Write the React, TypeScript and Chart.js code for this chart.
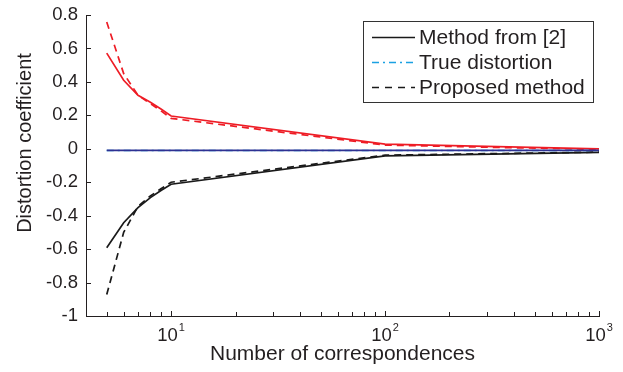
import React, { useEffect, useRef } from "react";
import { Chart, registerables } from "chart.js";

Chart.register(...registerables);

// ---- data ----
const xValues = [5, 6, 7, 8, 9, 10, 100, 1000];
const methodUpper = [0.572, 0.41, 0.32, 0.278, 0.236, 0.196, 0.028, 0.0];
const proposedUpper = [0.758, 0.45, 0.32, 0.27, 0.225, 0.182, 0.022, -0.004];
const methodLower = [-0.592, -0.442, -0.352, -0.292, -0.248, -0.212, -0.042, -0.022];
const proposedLower = [-0.872, -0.5, -0.345, -0.282, -0.238, -0.2, -0.038, -0.02];
const trueDistortion = [-0.01, -0.01, -0.01, -0.01, -0.01, -0.01, -0.01, -0.01];

const yTickValues = [-1, -0.8, -0.6, -0.4, -0.2, 0, 0.2, 0.4, 0.6, 0.8];
const xMajorTicks = [10, 100, 1000];
const xTickExponents = ["1", "2", "3"];
const xMinorTicks = [5, 6, 7, 8, 9, 20, 30, 40, 50, 60, 70, 80, 90, 200, 300, 400, 500, 600, 700, 800, 900];
const legendLabels = ["Method from [2]", "True distortion", "Proposed method"];
const xTitle = "Number of correspondences";
const yTitle = "Distortion coefficient";

const TEXT = "#231f20";
const RED = "#ee1c25";
const BLACK = "#1a1a1a";
const NAVY = "#2e3192";
const CYAN = "#1ba1e2";
const FONT = "'Liberation Sans', Arial, Helvetica, sans-serif";

const pts = (ys: number[]) => xValues.map((x, i) => ({ x, y: ys[i] }));

const overlay = {
  id: "matlabOverlay",
  afterDraw(chart: any) {
    const { ctx, chartArea } = chart;
    const xs = chart.scales.x;
    const ys = chart.scales.y;
    ctx.save();
    ctx.strokeStyle = TEXT;
    ctx.lineWidth = 1;
    ctx.setLineDash([]);
    // y ticks (inward)
    yTickValues.forEach((v) => {
      const py = Math.round(ys.getPixelForValue(v)) + 0.5;
      ctx.beginPath();
      ctx.moveTo(chartArea.left, py);
      ctx.lineTo(chartArea.left + 5, py);
      ctx.stroke();
    });
    // x ticks (inward)
    const bottom = chartArea.bottom;
    xMajorTicks.forEach((v) => {
      const px = Math.round(xs.getPixelForValue(v)) + 0.5;
      ctx.beginPath();
      ctx.moveTo(px, bottom);
      ctx.lineTo(px, bottom - 5);
      ctx.stroke();
    });
    xMinorTicks.forEach((v) => {
      const px = Math.round(xs.getPixelForValue(v)) + 0.5;
      ctx.beginPath();
      ctx.moveTo(px, bottom);
      ctx.lineTo(px, bottom - 4);
      ctx.stroke();
    });
    // x tick labels 10^n
    ctx.fillStyle = TEXT;
    ctx.textBaseline = "alphabetic";
    xMajorTicks.forEach((v, i) => {
      const px = xs.getPixelForValue(v);
      ctx.font = `18.5px ${FONT}`;
      const wBase = ctx.measureText("10").width;
      ctx.font = `11px ${FONT}`;
      const wExp = ctx.measureText(xTickExponents[i]).width;
      const total = wBase + 1 + wExp;
      const x0 = px - total / 2;
      ctx.font = `18.5px ${FONT}`;
      ctx.textAlign = "left";
      ctx.fillText("10", x0, 341);
      ctx.font = `11px ${FONT}`;
      ctx.fillText(xTickExponents[i], x0 + wBase + 1, 331);
    });
    // y title
    ctx.save();
    ctx.translate(25, 143);
    ctx.rotate(-Math.PI / 2);
    ctx.font = `20px ${FONT}`;
    ctx.textAlign = "center";
    ctx.textBaseline = "middle";
    ctx.fillText(yTitle, 0, 0);
    ctx.restore();
    // legend
    const bx = 363.5, by = 21.5, bw = 230, bh = 81;
    ctx.fillStyle = "#ffffff";
    ctx.fillRect(bx, by, bw, bh);
    ctx.strokeStyle = "#333333";
    ctx.strokeRect(bx, by, bw, bh);
    const rows = [37, 62, 87];
    const samples = [
      { color: BLACK, dash: [] as number[], width: 1.3 },
      { color: CYAN, dash: [7, 4, 2, 4], width: 1.3 },
      { color: BLACK, dash: [7, 6], width: 1.3 },
    ];
    rows.forEach((ry, i) => {
      ctx.strokeStyle = samples[i].color;
      ctx.lineWidth = samples[i].width;
      ctx.setLineDash(samples[i].dash);
      ctx.beginPath();
      ctx.moveTo(372, ry + 0.5);
      ctx.lineTo(415, ry + 0.5);
      ctx.stroke();
      ctx.setLineDash([]);
      ctx.fillStyle = TEXT;
      ctx.font = `21px ${FONT}`;
      ctx.textAlign = "left";
      ctx.textBaseline = "middle";
      ctx.fillText(legendLabels[i], 419, ry + 1);
    });
    ctx.restore();
  },
};

export default function App() {
  const ref = useRef<HTMLCanvasElement | null>(null);
  useEffect(() => {
    document.body.style.margin = "0";
    const canvas = ref.current!;
    const chart = new Chart(canvas, {
      type: "line",
      data: {
        datasets: [
          { label: "navy", data: pts(trueDistortion), borderColor: NAVY, borderWidth: 1.8, pointRadius: 0 },
          { label: legendLabels[1], data: pts(trueDistortion), borderColor: CYAN, borderWidth: 1.6, borderDash: [7, 4, 2, 4], pointRadius: 0 },
          { label: "upper method", data: pts(methodUpper), borderColor: RED, borderWidth: 1.7, pointRadius: 0 },
          { label: "upper proposed", data: pts(proposedUpper), borderColor: RED, borderWidth: 1.7, borderDash: [7, 5], pointRadius: 0 },
          { label: legendLabels[0], data: pts(methodLower), borderColor: BLACK, borderWidth: 1.7, pointRadius: 0 },
          { label: legendLabels[2], data: pts(proposedLower), borderColor: BLACK, borderWidth: 1.7, borderDash: [7, 5], pointRadius: 0 },
        ],
      },
      options: {
        responsive: false,
        animation: false,
        layout: { padding: { left: 0, right: 24, top: 15, bottom: 0 } },
        plugins: { legend: { display: false }, tooltip: { enabled: false } },
        scales: {
          x: {
            type: "logarithmic",
            min: 4,
            max: 1000,
            grid: { display: true, drawOnChartArea: false, drawTicks: false },
            border: { display: true, color: TEXT, width: 1 },
            ticks: { display: false },
            title: { display: true, text: xTitle, color: TEXT, font: { family: FONT, size: 21 }, padding: { top: 0, bottom: 5 } },
            afterFit: (s: any) => { s.height = 56; s.paddingLeft = 0; s.paddingRight = 0; },
          },
          y: {
            type: "linear",
            min: -1,
            max: 0.8,
            grid: { display: true, drawOnChartArea: false, drawTicks: false },
            border: { display: true, color: TEXT, width: 1 },
            afterBuildTicks: (s: any) => { s.ticks = yTickValues.map((v) => ({ value: v })); },
            ticks: {
              color: TEXT,
              padding: 8,
              font: { family: FONT, size: 18.5 },
              callback: (v: any) => String(Number(Number(v).toFixed(1))),
            },
            afterFit: (s: any) => { s.width = 86; s.paddingTop = 0; s.paddingBottom = 0; },
          },
        },
      },
      plugins: [overlay],
    });
    return () => chart.destroy();
  }, []);
  return <canvas ref={ref} width={623} height={372} style={{ display: "block", width: "623px", height: "372px" }} />;
}
